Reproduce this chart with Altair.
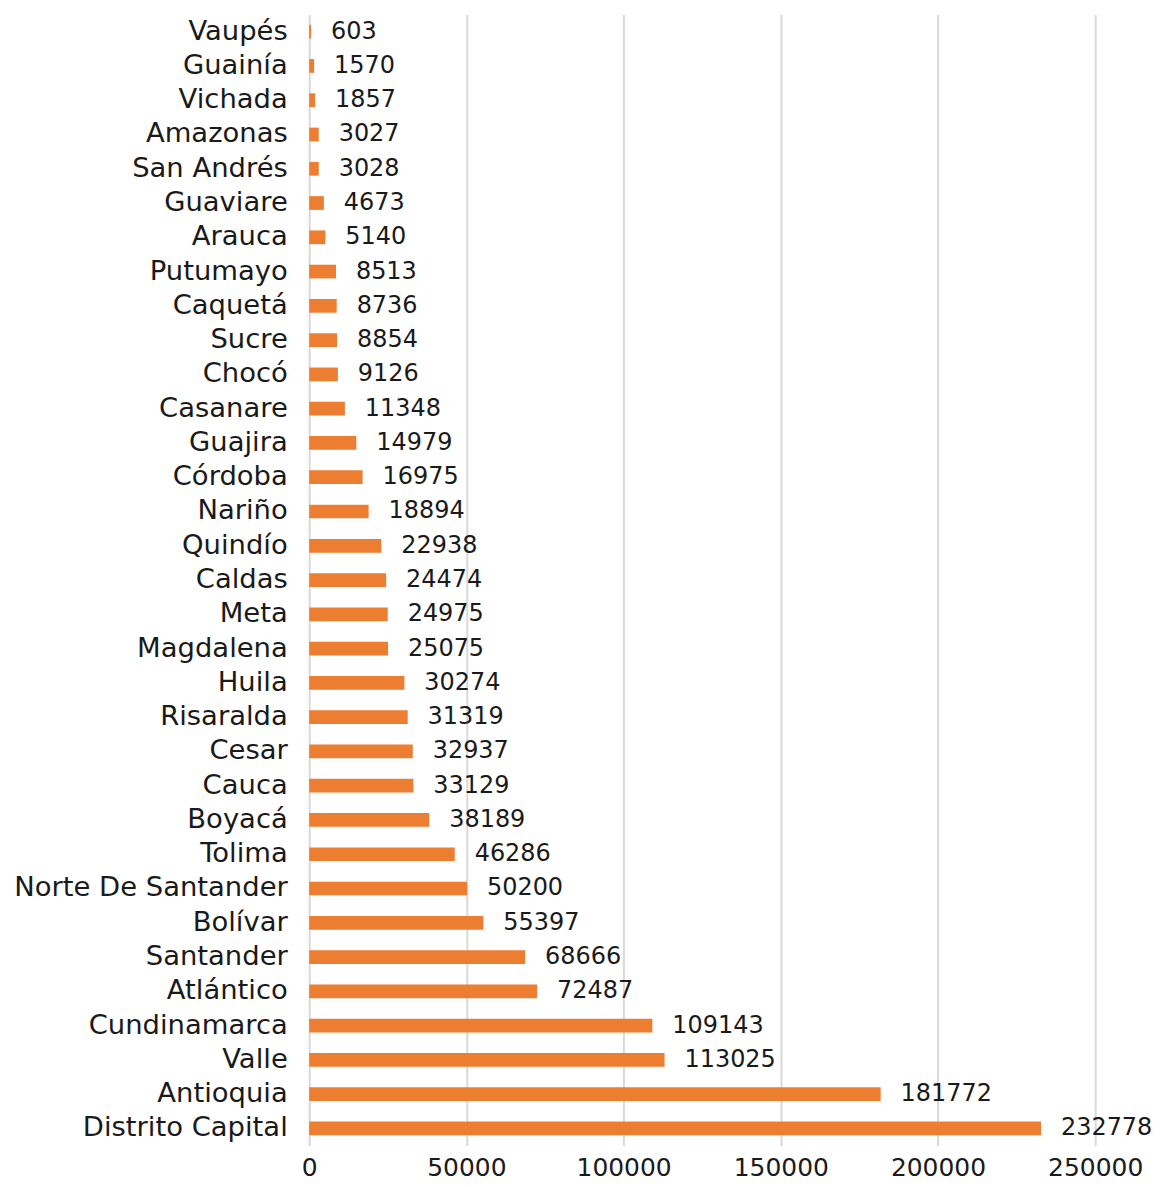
import altair as alt
import pandas as pd

departments = ["Vaupés", "Guainía", "Vichada", "Amazonas", "San Andrés", "Guaviare", "Arauca",
               "Putumayo", "Caquetá", "Sucre", "Chocó", "Casanare", "Guajira", "Córdoba", "Nariño",
               "Quindío", "Caldas", "Meta", "Magdalena", "Huila", "Risaralda", "Cesar", "Cauca",
               "Boyacá", "Tolima", "Norte De Santander", "Bolívar", "Santander", "Atlántico",
               "Cundinamarca", "Valle", "Antioquia", "Distrito Capital"]
values = [603, 1570, 1857, 3027, 3028, 4673, 5140, 8513, 8736, 8854, 9126, 11348, 14979, 16975,
          18894, 22938, 24474, 24975, 25075, 30274, 31319, 32937, 33129, 38189, 46286, 50200,
          55397, 68666, 72487, 109143, 113025, 181772, 232778]
x_ticks = [0, 50000, 100000, 150000, 200000, 250000]

df = pd.DataFrame({"dep": departments, "val": values})

FONT = "DejaVu Sans"
base = alt.Chart(df).encode(
    y=alt.Y("dep:N", sort=departments, title=None,
            scale=alt.Scale(paddingInner=0.6, paddingOuter=0.3),
            axis=alt.Axis(labelFont=FONT, labelFontSize=27.5, labelColor="#1a1a1a",
                          labelPadding=22, ticks=False, domain=False, labelLimit=400)),
    x=alt.X("val:Q", title=None,
            scale=alt.Scale(domain=[0, 250000], nice=False),
            axis=alt.Axis(values=x_ticks, format="d", labelFont=FONT, labelFontSize=25,
                          labelColor="#1a1a1a", ticks=False, domain=False, labelPadding=10,
                          gridColor="#d9d9d9", gridWidth=2, labelFlush=False)),
)

bars = base.mark_bar(color="#ED7D31")
labels = base.mark_text(align="left", dx=20, font=FONT, fontSize=24, color="#1a1a1a").encode(
    text=alt.Text("val:Q", format="d"))

chart = (bars + labels).properties(width=788, height=1134, background="white").configure_view(
    stroke=None)

chart.save("out.html", embed_options={"renderer": "svg", "actions": False})
